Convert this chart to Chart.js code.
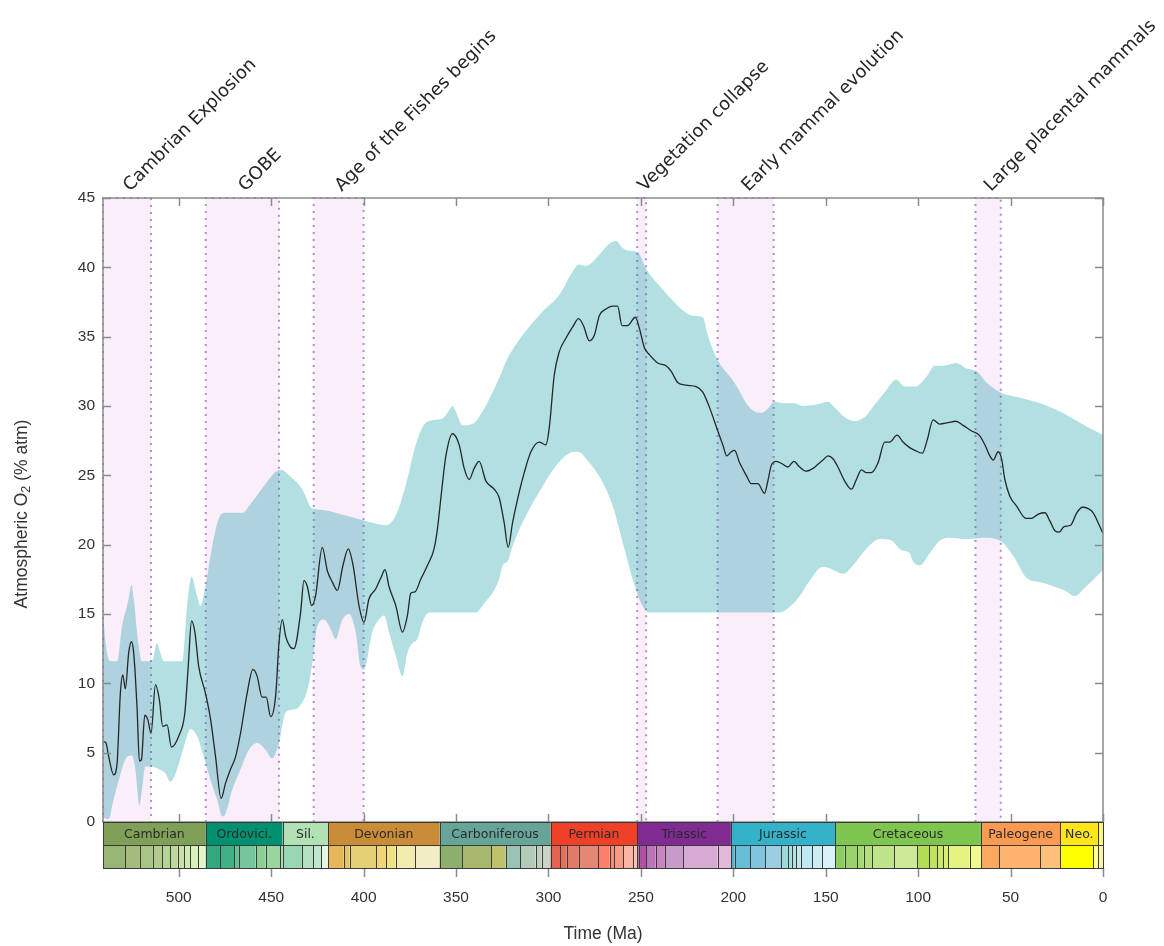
<!DOCTYPE html>
<html>
<head>
<meta charset="utf-8">
<script src="https://cdn.jsdelivr.net/npm/chart.js@4.4.1/dist/chart.umd.min.js"></script>
<style>
  html, body { margin: 0; padding: 0; background: #ffffff; }
  #wrap { width: 1164px; height: 946px; position: relative; }
  #chart { display: block; }
</style>
</head>
<body>
<div id="wrap"><canvas id="chart" width="1164" height="946"></canvas></div>
<script>
// Median atmospheric O2 curve (age in Ma, O2 in % atm)
const medianAge = [541,539.4,537.9,535.2,533.4,531.6,530.3,528.9,527.1,525.6,524.4,522.6,521.3,520.2,518.4,516.8,515,512.6,510.5,508.7,506.3,504,500,496.7,494.9,493.1,491.3,489.2,485.6,482.8,480.1,477.1,474.7,472,469.3,466.6,463,459.9,457.6,454.9,452.7,450.3,447.6,445.8,444,442.2,439.5,437.7,434.1,432.3,430.5,428.1,426,422.4,419.6,416.9,414.2,411.2,408.3,405.7,402.5,399.8,397.1,393.5,390.7,388.4,386.3,382.6,379,376.3,374.5,372.2,369.1,365.5,361.9,360.1,357.7,355.5,351.9,348.3,345.6,342.9,340.2,337.5,333.9,329.4,326.7,324,321.8,319.4,315.8,313.1,309.5,305,301.4,299.6,296.9,294.2,290.5,286.9,283.7,281.1,277.9,275.2,272.5,268.9,265.3,262.6,260.2,257.2,253,250.8,248.1,245.4,240.9,236.4,233.6,230.1,225.5,220.1,216.5,212.9,208.4,205.7,203.5,201.1,199.3,196.6,193,190.3,186.7,183.1,181.3,179.5,176.8,173.2,170.5,167.2,164.1,160.5,156.9,154.2,151.5,148.8,146.1,143.4,139.8,136.1,133.4,130.7,128,125.3,121.7,118.1,115.4,111.4,108.2,104.6,101.8,97.7,95.2,91.9,88.3,83.8,79.6,75.7,71.1,67,63.9,61.2,59.4,56.7,54.9,53.1,50.4,46.8,41.7,38.6,35,31.4,28.7,26,23.7,21.1,17.5,14.2,11,8,5.3,2,0];
const medianO2 = [5.8,5.7,4.7,3.4,4.2,9.3,10.6,9.6,12.2,13.0,12.2,8.3,4.4,4.5,7.7,7.4,6.4,9.9,8.8,6.9,7.0,5.4,6.2,7.9,11.2,14.5,13.7,11.2,9.3,7.4,4.7,1.7,2.8,3.8,4.7,6.4,9.3,11.0,10.5,9.0,9.0,7.6,9.1,12.9,14.6,13.4,12.6,12.5,15.1,17.4,17.0,15.6,16.3,19.8,18.1,17.3,16.7,18.5,19.7,18.5,15.6,14.4,16.1,16.8,17.6,18.2,17.0,15.6,13.7,14.9,16.5,16.6,17.5,18.5,19.7,21.1,24.0,26.4,28.0,27.2,25.5,24.7,25.5,26.0,24.6,24.0,23.4,21.6,19.8,21.6,23.8,25.2,26.7,27.4,27.2,28.4,32.2,33.9,34.9,35.7,36.3,35.8,34.7,35.1,36.5,37.0,37.2,37.2,35.8,35.8,36.4,35.6,34.2,33.7,33.1,32.9,32.5,31.7,31.5,31.4,31.0,29.9,28.2,27.2,26.4,26.7,26.8,25.9,25.0,24.4,24.4,23.7,24.6,25.7,26.0,25.8,25.6,26.0,25.6,25.3,25.5,25.8,26.1,26.4,26.2,25.6,24.6,24.0,24.7,25.4,25.2,25.2,25.9,27.4,27.4,27.9,27.4,27.0,26.8,26.6,27.5,29.0,28.7,28.8,28.9,28.6,28.2,27.9,27.2,26.4,26.1,26.7,26.2,24.7,23.5,22.8,21.9,21.9,22.2,22.3,21.7,21.0,20.9,21.3,21.4,22.3,22.7,22.6,22.3,21.4,20.8];

// Upper edge of the uncertainty envelope
const upperAge = [541,538.8,537,533.4,530.7,527.1,525.6,524.4,521.7,519.9,514.5,511.8,510,508.2,498.2,495.5,493.1,490.1,488.3,485.6,481.9,478.3,474.7,465.7,460.3,453,448,444.5,440.4,433.2,427.8,422.4,409.7,398.9,388,382.6,377.2,371.8,366.4,357.4,353.7,351.9,350.1,346.5,341.1,335.7,326.7,323,314,303.2,294.2,286.9,283.7,279.7,272.5,268,263.4,259.9,256.2,251.7,247.2,238.2,232.8,227.4,221.9,216.5,213.8,208.4,201.1,197.6,193,188.5,184.9,181.3,177.7,173.2,166.8,162.4,155.1,148.8,145.2,139.8,134.3,128.9,123.5,118.1,111.8,107.3,101.8,95.5,91,86.5,79.3,73.8,68.4,63,55.8,45,34.1,23.3,12.5,0];
const upperO2 = [14.8,12.2,11.6,11.6,14.1,16.1,17.1,16.1,12.7,11.6,11.6,12.9,12.2,11.6,11.6,15.6,17.7,16.3,15.6,17.0,19.9,21.9,22.3,22.3,23.1,24.4,25.2,25.4,25.0,24.0,22.6,22.5,22.1,21.7,21.4,22.1,24.3,27.2,28.8,29.1,29.7,30.0,29.6,28.6,28.7,29.6,32.0,33.2,35.1,36.8,38.0,39.7,40.2,40.1,40.9,41.6,41.9,41.4,41.2,41.1,39.9,38.4,37.6,36.9,36.5,36.4,35.1,33.3,32.0,31.3,30.2,29.6,29.5,29.8,30.3,30.2,30.2,30.0,30.1,30.3,29.9,29.2,28.9,29.2,30.1,31.0,31.9,31.4,31.4,32.1,32.9,32.9,33.1,32.7,32.5,31.7,31.0,30.6,30.2,29.6,28.8,27.9];

// Lower edge of the uncertainty envelope
const lowerAge = [541,538,535.5,532.5,528,525.3,523.5,521.3,519.9,518.1,514.5,510.8,507.2,504.5,500.9,497.3,493.7,490.1,486.5,482.8,479.2,476.5,474.7,471.1,466.6,462.1,457.6,453,449.5,445.8,442.2,438.6,435,430.5,427.8,425.1,421.4,417.8,415.1,411.5,407.9,404.3,401.6,399.8,395.3,391.7,388.9,386.3,382.6,379,376.3,373.6,370.9,368.2,364.6,360.9,339.3,335.7,326.7,324.8,322.1,319.4,314,305,295.9,288.7,284.2,277.9,270.7,265.3,259.9,254.4,249.9,245.4,175,169.6,164.1,158.7,151.5,146.1,140.7,135.3,128,120.8,114.5,109,104.6,102.8,99.1,93.7,88.3,82.9,73.8,64.8,55.8,48.6,41.3,34.1,26.9,20.6,15.2,9.8,4.3,0];
const lowerO2 = [0.3,0.2,1.5,3.0,4.7,4.8,3.8,1.2,2.3,4.0,4.0,3.8,3.5,2.9,3.8,5.4,6.7,6.2,4.7,3.0,1.6,0.4,0.6,2.3,3.8,5.2,5.7,5.2,4.6,5.7,7.9,8.1,8.3,9.5,11.4,14.1,14.6,13.9,13.2,14.6,15.0,13.7,11.2,11.0,13.7,14.6,14.9,13.7,12.0,10.5,12.2,12.9,13.2,14.4,15.1,15.1,15.1,15.6,17.5,18.5,18.8,19.9,21.6,23.8,25.7,26.6,26.7,25.9,24.5,22.8,20.2,17.5,15.8,15.1,15.1,15.5,16.3,17.4,18.4,18.2,17.9,18.5,19.7,20.4,20.3,19.6,19.4,18.8,18.5,19.4,20.3,20.5,20.4,20.5,20.3,19.2,17.6,17.3,17.0,16.7,16.3,16.9,17.6,18.2];

// Highlighted events (Ma)
const eventNames = ['Cambrian Explosion', 'GOBE', 'Age of the Fishes begins', 'Vegetation collapse', 'Early mammal evolution', 'Large placental mammals'];
const eventStart = [541, 485.4, 427, 252, 208.5, 69];
const eventEnd   = [515, 445.8, 400, 247.2, 178.2, 55.3];

// Geological periods
const periodNames  = ['Cambrian', 'Ordovici.', 'Sil.', 'Devonian', 'Carboniferous', 'Permian', 'Triassic', 'Jurassic', 'Cretaceous', 'Paleogene', 'Neo.', ''];
const periodStart  = [541, 485.4, 443.8, 419.2, 358.9, 298.9, 251.902, 201.3, 145, 66, 23.03, 2.58];
const periodColors = ['#7FA056', '#009270', '#B3E1B6', '#CB8C37', '#67A599', '#F04028', '#812B92', '#34B2C9', '#7FC64E', '#FD9A52', '#FFE619', '#F9F97F'];

// Stages / epochs (start age and colour; each ends where the next begins)
const stageStart = [541,529,521,514,509,504.5,500.5,497,494,489.5,
  485.4,477.7,470,467.3,458.4,453,445.2,
  443.8,433.4,427.4,423,
  419.2,410.8,407.6,393.3,387.7,382.7,372.2,
  358.9,346.7,330.9,323.2,315.2,307,303.7,
  298.9,293.52,290.1,283.5,273.01,266.9,264.28,259.51,254.14,
  251.902,251.2,247.2,242,237,227,208.5,
  201.3,199.3,190.8,182.7,174.1,170.3,168.3,166.1,163.5,157.3,152.1,
  145,139.8,132.9,129.4,125,113,100.5,93.9,89.8,86.3,83.6,72.1,
  66,56,33.9,
  23.03,5.333,
  2.58];
const stageColors = ['#99B575','#A6BA80','#A6C583','#B3CA8E','#B3D492','#BFD99D','#CCDFAA','#CCEBAE','#D9F0BB','#E6F5C9',
  '#33A97E','#41B087','#66C092','#74C69C','#8CD094','#99D69F','#A6DBAB',
  '#99D7B3','#B3E1C2','#BFE6CF','#E6F5E1',
  '#E5B75A','#E5C468','#E5D075','#F1D576','#F1E185','#F2EDAD','#F2EDC5',
  '#8CB06C','#A6B96C','#BFC26B','#99C2B5','#B3CBB9','#BFD0BA','#CCD4C7',
  '#E36350','#E36F5C','#E37B68','#E38776','#FB8069','#FB8D76','#FB9A85','#FCB4A2','#FCC0B2',
  '#A4469F','#B051A5','#BC75B7','#C983BF','#C99BCB','#D6AAD3','#E3B9DB',
  '#4EB3D3','#67BCD8','#80C5DD','#99CEE3','#9AD9DD','#A6DDE0','#B3E2E3','#BFE7E5','#BFE7F1','#CCECF4','#D9F1F7',
  '#8CCD60','#99D36A','#A6D975','#B3DF7F','#BFE48A','#CCEA97','#B3DE53','#BFE35D','#CCE968','#D9EF74','#E6F47F','#F2FA8C',
  '#FDA75F','#FDB46C','#FEC07A',
  '#FFFF00','#FFFF99',
  '#FFF2AE'];

const xMin = 0, xMax = 541;
const yMin = 0, yMax = 45;

const toPoints = (ages, vals) => ages.map((a, i) => ({ x: a, y: vals[i] }));

const SANS = "'Liberation Sans', Arial, sans-serif";
const DEJAVU = "'DejaVu Sans', sans-serif";
const ROW_H = 23;

const decor = {
  id: 'decor',
  beforeDraw(chart) {
    const { ctx, chartArea: a, scales: { x } } = chart;
    ctx.save();
    for (let i = 0; i < eventNames.length; i++) {
      const x0 = x.getPixelForValue(eventStart[i]);
      const x1 = x.getPixelForValue(eventEnd[i]);
      ctx.fillStyle = 'rgba(236,200,240,0.3)';
      ctx.fillRect(x0, a.top, x1 - x0, a.bottom - a.top);
      ctx.strokeStyle = 'rgba(170,120,205,0.85)';
      ctx.lineWidth = 2;
      ctx.setLineDash([2, 5]);
      ctx.beginPath();
      ctx.moveTo(x0, a.bottom);
      ctx.lineTo(x0, a.top);
      ctx.lineTo(x1, a.top);
      ctx.lineTo(x1, a.bottom);
      ctx.stroke();
    }
    ctx.restore();
  },
  afterDraw(chart) {
    const { ctx, chartArea: a, scales: { x, y } } = chart;
    ctx.save();

    // frame
    ctx.strokeStyle = '#8a8a8a';
    ctx.lineWidth = 1.5;
    ctx.strokeRect(a.left, a.top, a.right - a.left, a.bottom - a.top);

    // inward tick marks
    const tsBottom = a.bottom + 2 * ROW_H;
    ctx.beginPath();
    x.ticks.forEach(t => {
      const px = Math.round(x.getPixelForValue(t.value)) + 0.5;
      ctx.moveTo(px, a.top); ctx.lineTo(px, a.top + 8);
      ctx.moveTo(px, a.bottom); ctx.lineTo(px, a.bottom - 8);
      ctx.moveTo(px, tsBottom); ctx.lineTo(px, tsBottom + 9);
    });
    y.ticks.forEach(t => {
      const py = Math.round(y.getPixelForValue(t.value)) + 0.5;
      ctx.moveTo(a.left, py); ctx.lineTo(a.left + 8, py);
      ctx.moveTo(a.right, py); ctx.lineTo(a.right - 8, py);
    });
    ctx.stroke();

    // geological timescale: periods row and stages row
    const r1 = a.bottom, r2 = a.bottom + ROW_H;
    ctx.lineWidth = 1;
    ctx.strokeStyle = '#3a3a3a';
    for (let i = 0; i < stageStart.length; i++) {
      const end = i + 1 < stageStart.length ? stageStart[i + 1] : 0;
      const x0 = x.getPixelForValue(stageStart[i]);
      const x1 = x.getPixelForValue(end);
      ctx.fillStyle = stageColors[i];
      ctx.fillRect(x0, r2, x1 - x0, ROW_H);
      ctx.strokeRect(Math.round(x0) + 0.5, r2 + 0.5, Math.round(x1) - Math.round(x0), ROW_H);
    }
    ctx.font = '12.5px ' + DEJAVU;
    ctx.textAlign = 'center';
    ctx.textBaseline = 'middle';
    for (let i = 0; i < periodNames.length; i++) {
      const end = i + 1 < periodStart.length ? periodStart[i + 1] : 0;
      const x0 = x.getPixelForValue(periodStart[i]);
      const x1 = x.getPixelForValue(end);
      ctx.fillStyle = periodColors[i];
      ctx.fillRect(x0, r1, x1 - x0, ROW_H);
      ctx.strokeRect(Math.round(x0) + 0.5, r1 + 0.5, Math.round(x1) - Math.round(x0), ROW_H);
      if (periodNames[i]) {
        ctx.fillStyle = '#2a2a2a';
        ctx.fillText(periodNames[i], (x0 + x1) / 2, r1 + ROW_H / 2 + 1);
      }
    }

    // event labels, slanted above the plot
    ctx.font = '18px ' + DEJAVU;
    ctx.fillStyle = '#262626';
    ctx.textAlign = 'left';
    ctx.textBaseline = 'alphabetic';
    for (let i = 0; i < eventNames.length; i++) {
      const cx = (x.getPixelForValue(eventStart[i]) + x.getPixelForValue(eventEnd[i])) / 2;
      ctx.save();
      ctx.translate(cx + 3, a.top - 6);
      ctx.rotate(-Math.PI / 4);
      ctx.fillText(eventNames[i], 0, 0);
      ctx.restore();
    }

    // y-axis title with subscript
    const mainFont = '17.5px ' + SANS, subFont = '12.5px ' + SANS;
    const p1 = 'Atmospheric O', p2 = '2', p3 = ' (% atm)';
    ctx.font = mainFont; const w1 = ctx.measureText(p1).width, w3 = ctx.measureText(p3).width;
    ctx.font = subFont; const w2 = ctx.measureText(p2).width;
    const total = w1 + w2 + w3;
    ctx.save();
    ctx.translate(22, 514);
    ctx.rotate(-Math.PI / 2);
    ctx.fillStyle = '#333333';
    ctx.textAlign = 'left';
    ctx.textBaseline = 'middle';
    let cur = -total / 2;
    ctx.font = mainFont; ctx.fillText(p1, cur, 0); cur += w1;
    ctx.font = subFont; ctx.fillText(p2, cur, 5); cur += w2;
    ctx.font = mainFont; ctx.fillText(p3, cur, 0);
    ctx.restore();

    ctx.restore();
  }
};

new Chart(document.getElementById('chart'), {
  type: 'scatter',
  data: {
    datasets: [
      {
        label: 'Median O2',
        data: toPoints(medianAge, medianO2),
        showLine: true,
        borderColor: '#262626',
        borderWidth: 1.3,
        pointRadius: 0,
        cubicInterpolationMode: 'monotone',
        fill: false
      },
      {
        label: 'Upper',
        data: toPoints(upperAge, upperO2),
        showLine: true,
        borderWidth: 0,
        borderColor: 'rgba(0,0,0,0)',
        pointRadius: 0,
        cubicInterpolationMode: 'monotone',
        backgroundColor: 'rgba(0,148,155,0.3)',
        fill: '+1'
      },
      {
        label: 'Lower',
        data: toPoints(lowerAge, lowerO2),
        showLine: true,
        borderWidth: 0,
        borderColor: 'rgba(0,0,0,0)',
        pointRadius: 0,
        cubicInterpolationMode: 'monotone',
        fill: false
      }
    ]
  },
  options: {
    responsive: false,
    animation: false,
    devicePixelRatio: 1,
    layout: { padding: { top: 198, right: 61, left: 0, bottom: 0 } },
    plugins: { legend: { display: false }, tooltip: { enabled: false } },
    scales: {
      x: {
        type: 'linear',
        min: xMin, max: xMax,
        reverse: true,
        // tick marks are drawn by the decor plugin; the tick length only spaces the labels below the timescale
        grid: { display: false, drawTicks: true, tickLength: 65 },
        border: { display: false },
        ticks: {
          stepSize: 50, includeBounds: false, maxRotation: 0, autoSkip: false,
          padding: 1, color: '#333333',
          font: { family: SANS, size: 15.5 }
        },
        title: {
          display: true, text: 'Time (Ma)', color: '#333333',
          font: { family: SANS, size: 17.5 },
          padding: { top: 0, bottom: 1 }
        },
        afterFit: s => { s.height = 124; }
      },
      y: {
        min: yMin, max: yMax,
        grid: { display: false, drawTicks: false },
        border: { display: false },
        ticks: {
          stepSize: 5, padding: 8, color: '#333333',
          font: { family: SANS, size: 15.5 }
        },
        afterFit: s => { s.width = 103; }
      }
    }
  },
  plugins: [decor]
});
</script>
</body>
</html>
